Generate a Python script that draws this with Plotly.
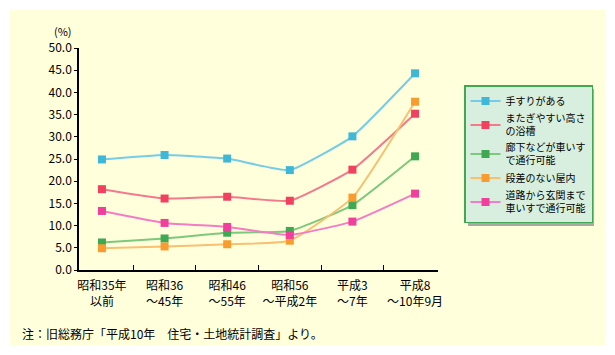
import plotly.graph_objects as go

categories = ["昭和35年<br>以前", "昭和36<br>～45年", "昭和46<br>～55年", "昭和56<br>～平成2年", "平成3<br>～7年", "平成8<br>～10年9月"]
series_names = ["手すりがある", "またぎやすい高さ<br>の浴槽", "廊下などが車いす<br>で通行可能", "段差のない屋内", "道路から玄関まで<br>車いすで通行可能"]
handrail = [24.9, 25.9, 25.1, 22.5, 30.1, 44.3]
bathtub = [18.2, 16.1, 16.5, 15.6, 22.6, 35.2]
corridor = [6.2, 7.1, 8.4, 8.8, 14.6, 25.6]
no_step = [4.9, 5.3, 5.8, 6.6, 16.3, 37.9]
entrance = [13.3, 10.6, 9.7, 7.9, 10.9, 17.2]
y_ticks = [0, 5, 10, 15, 20, 25, 30, 35, 40, 45, 50]

values = [handrail, bathtub, corridor, no_step, entrance]
line_colors = ["#74CCE6", "#F27A8A", "#7CC87C", "#F8C070", "#F47CC4"]
marker_colors = ["#3FB7D6", "#F2405F", "#3FA852", "#F89C30", "#F0409C"]

W, H = 615, 355
L, R, T, B = 79, 438, 48, 270
pw, ph = R - L, B - T

fig = go.Figure()
for name, vals, lc, mc in zip(series_names, values, line_colors, marker_colors):
    fig.add_trace(go.Scatter(
        x=categories, y=vals, name=name, mode="lines+markers",
        line=dict(color=lc, width=2, shape="spline", smoothing=0.4),
        marker=dict(symbol="square", size=8, color=mc),
    ))

def px_x(x):
    return (x - L) / pw

def px_y(y):
    return (B - y) / ph

shapes = [
    dict(type="rect", xref="paper", yref="paper", x0=px_x(10), x1=px_x(605), y0=px_y(345), y1=px_y(10),
         fillcolor="#FFFFDC", line=dict(width=0), layer="below"),
    dict(type="rect", xref="paper", yref="paper", x0=px_x(468), x1=px_x(594), y0=px_y(226), y1=px_y(89),
         fillcolor="#A9A9A3", line=dict(width=0), layer="above"),
]

annotations = [
    dict(text="(%)", xref="paper", yref="paper", x=px_x(63), y=px_y(31), showarrow=False,
         font=dict(size=11, color="black"), xanchor="center", yanchor="middle"),
    dict(text="注：旧総務庁「平成10年　住宅・土地統計調査」より。", xref="paper", yref="paper",
         x=px_x(20), y=px_y(333), showarrow=False, font=dict(size=12, color="black"),
         xanchor="left", yanchor="middle"),
]

fig.update_layout(
    width=W, height=H,
    margin=dict(l=L, r=W - R, t=T, b=H - B, pad=0, autoexpand=False),
    paper_bgcolor="white", plot_bgcolor="#FFFFDC",
    font=dict(family="Noto Sans CJK JP", size=12, color="black"),
    showlegend=True,
    legend=dict(x=px_x(464), y=px_y(85), xanchor="left", yanchor="top",
                bgcolor="#D8EEDE", bordercolor="#40A850", borderwidth=1.5,
                font=dict(size=10), tracegroupgap=0, itemwidth=30),
    shapes=shapes, annotations=annotations,
    xaxis=dict(type="category", showline=True, linecolor="black", linewidth=1.5,
               ticks="inside", ticklen=5, tickcolor="black", tickson="boundaries",
               tickangle=0, automargin=False, ticklabelstandoff=4,
               showgrid=False, zeroline=False, fixedrange=True, tickfont=dict(size=12)),
    yaxis=dict(range=[0, 50], tickvals=y_ticks, tickformat=".1f", showline=True, linecolor="black",
               linewidth=1.5, ticks="outside", ticklen=3, tickcolor="black", showgrid=False,
               automargin=False, zeroline=False, fixedrange=True, tickfont=dict(size=12)),
)

fig.write_html("out.html", config={"displayModeBar": False},
               post_script="document.body.style.margin='0';")
